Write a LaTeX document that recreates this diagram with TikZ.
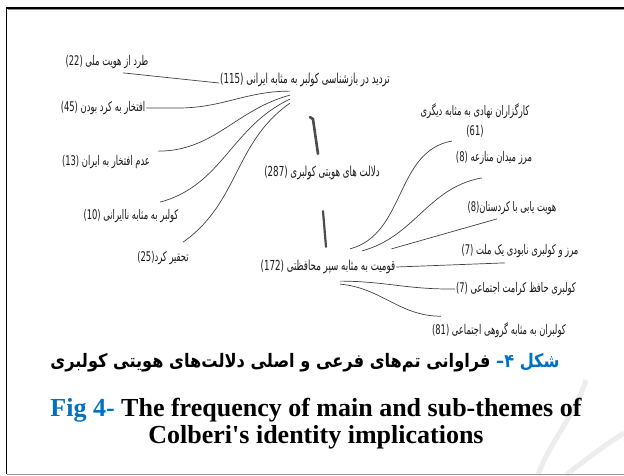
\documentclass[tikz,border=0pt]{standalone}
\usepackage{fontspec}
\setmainfont{Liberation Serif}
\newfontfamily\fa[Script=Arabic,FakeStretch=0.63]{DejaVu Sans}
\newfontfamily\facap[Script=Arabic,FakeStretch=0.87]{DejaVu Sans}
\TeXXeTstate=1
\usetikzlibrary{positioning,calc}
\definecolor{capblue}{RGB}{0,112,192}

\begin{document}
\begin{tikzpicture}[x=1pt, y=1pt,
    leaf/.style={font=\fa\fontsize{13.3}{15}\selectfont, inner sep=1pt, text=black!90},
    theme/.style={font=\fa\fontsize{13.8}{15}\selectfont, inner sep=1pt, text=black!90},
    link/.style={draw=black!75, line width=0.7pt},
    stem/.style={draw=black!70, line width=2.6pt, line cap=round},
    facap/.style={font=\facap\bfseries\fontsize{18.6}{21}\selectfont, inner sep=0pt},
    encap/.style={font=\bfseries\fontsize{26}{27}\selectfont, inner sep=0pt, align=center},
]
\useasboundingbox (0,0) rectangle (624,475);

% Frame and watermark
\draw[black!7, line width=5pt] (586,95) .. controls (575,60) and (548,30) .. (538,0);
\draw[black!7, line width=5pt] (566,0) .. controls (585,15) and (605,30) .. (624,42);
\draw[black!40, line width=0.8pt] (6.5,1) -- (624,1);
\draw[black, line width=1.5pt] (6.5,1) -- (6.5,467) -- (624,467);
\draw[black!45, line width=0.6pt] (7.5,465.5) -- (624,465.5);

% Themes
\node[theme] (tr) at (305,395) {\beginR تردید در بازشناسی کولبر به مثابه ایرانی \beginL(115)\endL\endR};
\node[theme] (dl) at (322,302) {\beginR دلالت های هویتی کولبری \beginL(287)\endL\endR};
\node[theme] (qm) at (328,208) {\beginR قومیت به مثابه سپر محافظتی \beginL(172)\endL\endR};

% Left sub-themes
\node[leaf] (n22) at (107,413) {\beginR طرد از هویت ملی \beginL(22)\endL\endR};
\node[leaf] (n45) at (103,367) {\beginR افتخار به  کرد بودن \beginL(45)\endL\endR};
\node[leaf] (n13) at (106,313) {\beginR عدم افتخار به ایران \beginL(13)\endL\endR};
\node[leaf] (n10) at (131,259) {\beginR کولبر به مثابه ناایرانی \beginL(10)\endL\endR};
\node[leaf] (n25) at (163,217) {\beginR تحقیر کرد\beginL(25)\endL\endR};

% Right sub-themes
\node[leaf, align=center] (n61) at (475,355) {\beginR کارگزاران نهادی به مثابه دیگری\endR\\[5pt](61)};
\node[leaf] (n8a) at (494,317) {\beginR مرز میدان منازعه \beginL(8)\endL\endR};
\node[leaf] (n8b) at (512,267) {\beginR هویت یابی با کردستان\beginL(8)\endL\endR};
\node[leaf] (n7a) at (520,224) {\beginR مرز و کولبری نابودی یک ملت \beginL(7)\endL\endR};
\node[leaf] (n7b) at (516,186) {\beginR کولبری حافظ کرامت اجتماعی \beginL(7)\endL\endR};
\node[leaf] (n81) at (499,145) {\beginR کولبران به مثابه گروهی اجتماعی \beginL(81)\endL\endR};

% Links to the upper theme
\coordinate (trf) at ([xshift=-15pt]tr.south);
\draw[link] ([shift={(16,-3)}]n22.south) -- ([yshift=-3pt]tr.west);
\draw[link] (n45.east) -- ++(32,0) to[out=0,in=180] ([yshift=-3pt]trf);
\draw[link] ([shift={(7,3)}]n13.north east) to[out=0,in=195] ([yshift=-7pt]trf);
\draw[link] ([shift={(29,6)}]n10.north) to[out=15,in=205] ([yshift=-11pt]trf);
\draw[link] ([shift={(20,8)}]n25.north) to[out=35,in=215] ([yshift=-15pt]trf);

% Stems between themes
\draw[stem] ([shift={(5,-29)}]tr.south) -- ([shift={(8,-31)}]tr.south) -- ([shift={(-4,11)}]dl.north);
\draw[stem, line width=2.2pt] ([shift={(1,-30)}]dl.south) -- ([shift={(-2,12)}]qm.north);

% Links from the lower theme
\draw[link] ([shift={(22,10)}]qm.north) to[out=15,in=190] ([shift={(-23,-3)}]n61.south);
\draw[link] ([shift={(34,8)}]qm.north) to[out=15,in=190] ([shift={(-12,-12)}]n8a.south);
\draw[link] ([shift={(-5,10)}]qm.north east) -- ([shift={(-15,-3)}]n8b.south);
\draw[link] (qm.east) -- ([shift={(-15,-4)}]n7a.south);
\draw[link] ([shift={(12,-6)}]qm.south) to[out=0,in=180] ([xshift=-6pt]n7b.west) -- (n7b.west);
\draw[link] ([shift={(12,-9)}]qm.south) to[out=-5,in=180] ([shift={(10,5)}]n81.north west);

% Caption
\node[facap] (cfa) at (305,112) {\beginR فراوانی تم‌های فرعی و اصلی دلالت‌های هویتی کولبری\endR\ {\color{capblue}\beginR شکل ۴–\endR}};
\node[encap] (cen) at (316,51) {{\color{capblue}Fig 4-} The frequency of main and sub-themes of\\Colberi\textquotesingle s identity implications};

\end{tikzpicture}
\end{document}
